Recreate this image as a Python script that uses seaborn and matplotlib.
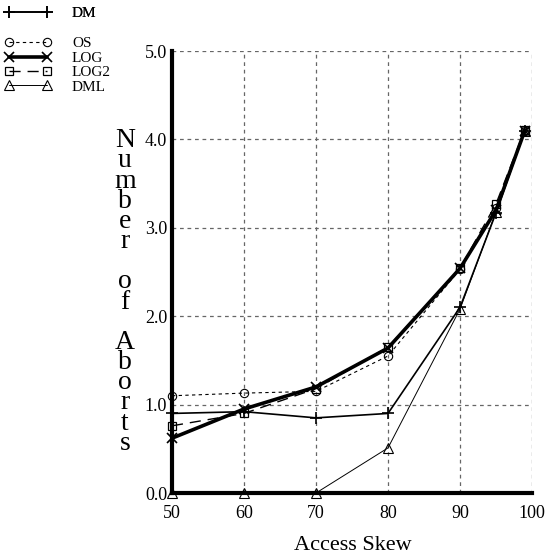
import matplotlib
matplotlib.use("Agg")
import matplotlib.pyplot as plt
import seaborn as sns
import pandas as pd
from matplotlib.ticker import FormatStrFormatter

# ---- data ----
skew = [50, 60, 70, 80, 90, 95, 99]
dm   = [0.90, 0.92, 0.85, 0.90, 2.10, 3.17, 4.10]
os_  = [1.10, 1.13, 1.15, 1.55, 2.53, 3.22, 4.10]
log  = [0.62, 0.95, 1.20, 1.64, 2.54, 3.20, 4.10]
log2 = [0.76, 0.90, 1.18, 1.65, 2.54, 3.27, 4.11]
dml  = [0.00, 0.00, 0.00, 0.51, 2.08, 3.18, 4.10]
series_names = ["DM", "OS", "LOG", "LOG2", "DML"]
x_ticks = [50, 60, 70, 80, 90, 100]
y_ticks = [0.0, 1.0, 2.0, 3.0, 4.0, 5.0]

df = pd.DataFrame({
    "skew": skew * 5,
    "aborts": dm + os_ + log + log2 + dml,
    "series": sum([[n] * len(skew) for n in series_names], []),
})

sns.set_theme(style="white")
plt.rcParams["font.family"] = ["Liberation Serif", "DejaVu Serif"]
plt.rcParams["text.color"] = "black"
plt.rcParams["xtick.color"] = "black"
plt.rcParams["ytick.color"] = "black"
plt.rcParams["axes.labelcolor"] = "black"

fig = plt.figure(figsize=(5.51, 5.6), dpi=100)
ax = fig.add_axes([172 / 551, 1 - 493 / 560, (532 - 172) / 551, (493 - 51) / 560])

styles = {
    "DM":   dict(lw=1.2, ls="-", marker="+", ms=9, mew=1.2, mfc="none"),
    "OS":   dict(lw=0.8, ls=(0, (3, 3)), marker="o", ms=6, mew=0.8, mfc="none"),
    "LOG":  dict(lw=2.6, ls="-", marker="x", ms=7, mew=1.2, mfc="none"),
    "LOG2": dict(lw=1.0, ls=(0, (8, 5)), marker="s", ms=6, mew=0.9, mfc="none"),
    "DML":  dict(lw=0.7, ls="-", marker="^", ms=7, mew=0.8, mfc="none"),
}

handles = []
for name in series_names:
    st = styles[name]
    sub = df[df["series"] == name]
    sns.lineplot(data=sub, x="skew", y="aborts", ax=ax, color="black",
                 linewidth=st["lw"], linestyle=st["ls"], marker=st["marker"],
                 markersize=st["ms"], markeredgewidth=st["mew"],
                 markerfacecolor=st["mfc"], markeredgecolor="black",
                 label=name, clip_on=False, zorder=5, legend=False)
    handles.append(ax.get_lines()[-1])

ax.set_xlim(50, 100)
ax.set_ylim(0, 5)
ax.set_xticks(x_ticks)
ax.set_yticks(y_ticks)
ax.yaxis.set_major_formatter(FormatStrFormatter("%.1f"))
ax.grid(True, color="#666666", linestyle=(0, (3, 3)), linewidth=0.9)
for s in ["top", "right"]:
    ax.spines[s].set_visible(False)
for s in ["left", "bottom"]:
    ax.spines[s].set_linewidth(3)
    ax.spines[s].set_color("black")
    ax.spines[s].set_zorder(6)
ax.tick_params(axis="both", labelsize=13, colors="black", direction="inout",
               length=5, width=2)
ax.tick_params(axis="x", pad=6)
ax.tick_params(axis="y", pad=1)
ax.set_xlabel("")
ax.set_ylabel("")

# stacked vertical y-label
ylabel = "\n".join(list("Number")) + "\n\n" + "\n".join(list("of")) + "\n\n" + "\n".join(list("Aborts"))
fig.text(125 / 551, 1 - 292 / 560, ylabel, ha="center", va="center",
         fontsize=20, linespacing=0.745, color="black")
fig.text(353 / 551, 1 - 546 / 560, "Access Skew", ha="center", va="center",
         fontsize=16, color="black")

# legend (outside, top-left)
leg1 = fig.legend(handles=handles[:1], labels=series_names[:1], loc="upper left",
                  bbox_to_anchor=(-6 / 551, 1.0 + 0.008), frameon=False, fontsize=11,
                  handlelength=3.1, handletextpad=1.3, numpoints=2, borderaxespad=0.3)
fig.add_artist(leg1)
fig.legend(handles=handles[1:], labels=series_names[1:], loc="upper left",
           bbox_to_anchor=(-6 / 551, 1 - 26 / 560), frameon=False, fontsize=11,
           handlelength=3.1, handletextpad=1.3, numpoints=2, labelspacing=0.05,
           borderaxespad=0.3)

fig.savefig("out.png", dpi=100)
